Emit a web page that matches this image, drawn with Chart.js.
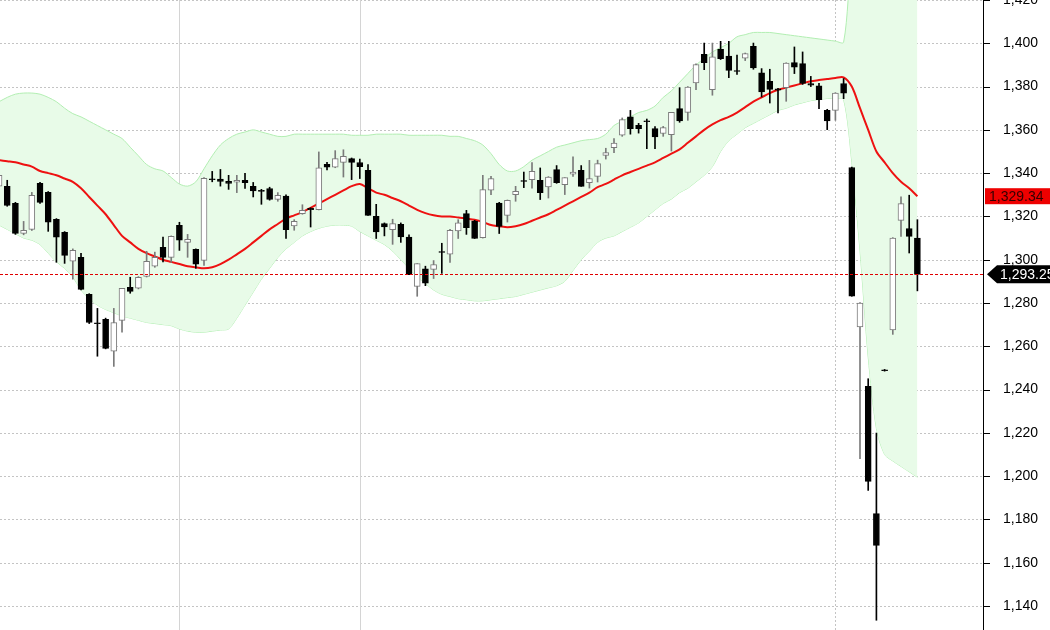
<!DOCTYPE html>
<html><head><meta charset="utf-8">
<script src="https://cdn.jsdelivr.net/npm/chart.js@4.4.1/dist/chart.umd.min.js"></script>
<style>html,body{margin:0;padding:0;background:#fff}#wrap{width:1050px;height:630px}</style>
</head><body><div id="wrap"><canvas id="c"></canvas></div>
<script>
const opens=[1334,1333.9,1326,1312.2,1314,1335.3,1331.1,1318.7,1312.7,1299.3,1301.1,1284,1270.8,1272.5,1257.7,1272,1287.2,1286.8,1292.3,1297,1305.7,1301.1,1315.9,1308,1304.8,1299.7,1337.4,1337.2,1336.2,1335.8,1336.7,1333.9,1332.1,1332.9,1327.9,1329.4,1315.6,1321.3,1323.7,1323.1,1344.1,1342.8,1345,1346.7,1344.9,1341.3,1320,1316.7,1313.9,1316.4,1310.5,1287.7,1295.8,1295.5,1303.8,1302.5,1313.3,1321.3,1317.9,1310.2,1332.1,1326.2,1320.5,1330.1,1336.6,1337,1336.7,1333.6,1341.6,1334.7,1339.5,1341.3,1335.6,1338.5,1348.2,1351.8,1357.5,1366,1362.1,1364.2,1360.6,1358.3,1357.8,1369.8,1368.1,1381.7,1394.9,1378.6,1397.2,1394.1,1387.4,1393.1,1398.6,1386.3,1382.4,1379,1379.5,1391.1,1390.6,1381.4,1380.3,1369,1369,1381.4,1342.6,1268.9,1241.5,1182.7,1249.1,1267.6,1318.2,1314.4,1310];
const highs=[1341,1336.7,1326.5,1317.7,1331.1,1335.8,1331.5,1319,1313,1305,1303,1284.3,1277.5,1273,1277.5,1286.8,1291.9,1292.2,1303.9,1303.5,1310.4,1311,1317.3,1311.7,1305,1338,1340.8,1341.7,1339,1339,1339.9,1335.7,1332.5,1333.5,1331,1330,1318.5,1325.4,1324,1349.8,1345,1350.4,1350.8,1347,1346.5,1343.9,1325.6,1317,1318.7,1317,1311.5,1298.2,1297,1299.6,1307.6,1314,1318.5,1322.8,1318.2,1339,1338.5,1326.5,1327.6,1333.9,1340.5,1344.9,1342.4,1338.4,1343.5,1337.9,1347.5,1343.5,1345.9,1346,1351.5,1356,1365.5,1369,1363,1365,1361.5,1361.6,1368.1,1379.5,1380,1390.5,1400.1,1400.1,1400.9,1400.9,1394.5,1395.5,1400.1,1388.3,1388,1379.2,1391,1398.3,1396,1384.7,1381.5,1369.5,1377.2,1383.7,1342.8,1280.2,1245,1219.9,1249.3,1310.2,1329,1329.8,1318.5];
const lows=[1330,1324.7,1311.7,1311.5,1313.5,1326,1313.1,1298.8,1298.3,1291,1286,1270.5,1255.4,1258.8,1250.7,1266.5,1284.5,1286.5,1292,1296.5,1299,1298.8,1304.3,1301.1,1296,1297.4,1336,1334,1332.5,1331,1332.9,1329,1325.6,1327.5,1327,1309.8,1313.6,1321,1315.1,1323,1341.5,1342.5,1338.2,1337,1337.5,1320.5,1309.8,1311,1307.1,1308,1293.1,1283.1,1288,1291.3,1293.7,1298.8,1309.8,1311.7,1309.8,1310,1330,1312.1,1317.4,1327,1333.3,1333,1327.8,1328.5,1335.3,1330.1,1338.5,1333.9,1333.1,1335.9,1346.5,1349.5,1357,1358,1358.5,1351.3,1351.3,1357,1350.2,1363.5,1364.4,1378.6,1387.8,1376,1392.5,1384.1,1385.6,1392,1388,1375.2,1372.4,1367.8,1373.2,1386,1381,1380,1369.8,1360.1,1364.4,1374.4,1283.1,1208.1,1193.4,1133.4,1248.5,1265.5,1310.8,1303.1,1285.6];
const closes=[1339,1325.1,1312.2,1313.6,1329.8,1326.5,1317.3,1310.4,1302,1304.3,1286.3,1271,1270.4,1259,1271,1286.8,1285.4,1291.9,1299.3,1301.1,1301.1,1310.8,1309,1309.4,1297.9,1337.6,1337,1336.2,1335.3,1336.7,1335.6,1331.8,1331.5,1327.8,1329.8,1313.9,1317.7,1322.8,1323.1,1342.4,1342.8,1346.7,1347.8,1345,1343,1320.5,1312.8,1315.1,1316.7,1310.5,1293.1,1298.2,1289.2,1297.7,1303.4,1313.6,1317,1314.8,1309.8,1332.4,1337.5,1315.4,1327.4,1331.6,1336.2,1340.8,1331,1338.2,1335.6,1337.9,1340.5,1333.9,1337.5,1344.4,1349.5,1353.9,1364.7,1360.6,1360.6,1363.8,1356.7,1361,1368.1,1364.1,1379.8,1390.2,1391.1,1393.7,1392.9,1387.5,1387,1395.2,1388.6,1377.5,1378.7,1378.3,1390.9,1389,1381.4,1380.6,1374,1364.1,1377,1377,1283.1,1280,1197.6,1168,1248.7,1310,1325.9,1310.8,1293.25];
const maLine=[1346,1345.5,1345,1344,1343,1341,1340,1339,1337.5,1336,1333,1329,1325,1321,1316,1311,1308,1305,1303,1301.5,1300,1299,1298,1297,1296.5,1296,1296.5,1298,1300,1302.5,1305,1308,1311,1314,1316.5,1319,1320.5,1322,1324,1326,1328,1330,1332,1334,1335,1333,1331,1330,1328.5,1327,1325,1323,1321.5,1320.5,1320,1320,1319.5,1319,1318.5,1317.5,1316,1315.5,1315,1315.5,1316.5,1318,1319.5,1321,1323,1325,1327,1329,1331,1333.5,1335,1337,1339,1340.5,1342,1343.5,1345,1347,1349,1351,1354,1357,1360,1362.5,1364.5,1366,1368,1370.5,1373,1375,1377,1378.5,1379.5,1380.5,1381.5,1382.5,1383,1383.5,1384,1384.3,1380,1370,1360,1350,1345,1340,1336,1333,1329.34];
const upperBand=[1373,1375,1376.5,1377,1377,1376.5,1375,1373,1370,1367.5,1366,1364,1362,1360,1358,1356,1352,1348,1344,1342,1341,1338,1335,1334,1336,1342,1348,1353,1356,1358,1359,1360,1359,1358,1357,1357,1358,1358,1358,1358,1358,1358,1358,1357.5,1357.5,1357.5,1358,1358,1358,1358,1357.5,1357.5,1357.5,1357.5,1357.5,1357,1357,1356,1355,1353,1349,1344,1341,1341,1343,1346,1348,1350,1352,1353,1354,1355,1355.5,1356,1358,1362,1364,1366,1368,1369,1371,1375,1378,1382,1386,1390,1393,1396,1398,1400,1403,1404,1405,1405,1405,1404.5,1404,1403.5,1403,1402.5,1402,1401.5,1401,1400.5,1440,1455,1465,1472,1476,1480,1482,1483,1484];
const lowerBand=[1316,1314,1312,1310,1309,1307,1303,1299,1296,1292,1286,1282,1279,1277,1275.5,1274,1273,1272,1271,1270.5,1270,1269.5,1268,1267,1266.5,1266.5,1267,1267.5,1268,1273,1279,1285,1291,1296,1301,1305,1308,1311,1313,1314.5,1315.5,1316,1316,1315.5,1313,1311,1309,1307,1304,1300,1296,1292,1289,1286,1284,1283,1282,1281.5,1281,1281,1281.5,1282,1282.5,1283,1284,1285,1286,1287,1288,1290,1295,1300,1304,1308,1310,1311,1313,1315,1317,1320,1323,1326,1328,1331,1333,1336,1339,1343,1350,1355,1358,1361,1363,1365,1367,1369,1370,1371.5,1372.5,1373.5,1374,1374.5,1374.6,1374,1345,1304,1255,1222,1210,1207,1204.5,1202,1199.5];
const yTicks=[1140,1160,1180,1200,1220,1240,1260,1280,1300,1320,1340,1360,1380,1400,1420];
const xGrid=[22,44,102];

const idx=opens.map((_,i)=>i);
const up=idx.map(i=>closes[i]>=opens[i]);
const fmt=v=>v.toLocaleString('en-US',{minimumFractionDigits:0,maximumFractionDigits:2});

const gridPlugin={id:'grid',beforeDatasetsDraw(ch){
  const {ctx,chartArea:a,scales:{x,y}}=ch;ctx.save();ctx.lineWidth=1;
  ctx.strokeStyle='#c4c4c4';ctx.setLineDash([2,2]);
  yTicks.forEach(v=>{const py=Math.round(y.getPixelForValue(v))+0.5;ctx.beginPath();ctx.moveTo(a.left,py);ctx.lineTo(a.right,py);ctx.stroke();});
  xGrid.forEach((v,k)=>{const px=Math.round(x.getPixelForValue(v))+0.5;ctx.setLineDash(k<2?[]:[2,2]);ctx.strokeStyle=k<2?'#d4d4d4':'#c4c4c4';ctx.beginPath();ctx.moveTo(px,a.top);ctx.lineTo(px,a.bottom);ctx.stroke();});
  ctx.restore();
},beforeDraw(ch){}};
const labelPlugin={id:'labels',afterDraw(ch){
  const {ctx,chartArea:a,scales:{y}}=ch;ctx.save();
  // axis line and tick marks
  ctx.strokeStyle='#000';ctx.lineWidth=1;ctx.setLineDash([]);
  ctx.beginPath();ctx.moveTo(a.right+0.5,0);ctx.lineTo(a.right+0.5,630);ctx.stroke();
  yTicks.forEach(v=>{const py=Math.round(y.getPixelForValue(v))+0.5;ctx.beginPath();ctx.moveTo(a.right,py);ctx.lineTo(a.right+7,py);ctx.stroke();});
  const last=closes[closes.length-1];const ly=y.getPixelForValue(last);
  ctx.strokeStyle='#e00000';ctx.setLineDash([3,2]);ctx.beginPath();ctx.moveTo(a.left,Math.round(ly)+0.5);ctx.lineTo(a.right,Math.round(ly)+0.5);ctx.stroke();ctx.setLineDash([]);
  ctx.font='14px "Liberation Sans", Arial, sans-serif';ctx.textBaseline='middle';ctx.textAlign='left';
  // black arrow label
  ctx.fillStyle='#000';ctx.beginPath();ctx.moveTo(a.right+4,ly);ctx.lineTo(a.right+14,ly-9);ctx.lineTo(1050,ly-9);ctx.lineTo(1050,ly+9);ctx.lineTo(a.right+14,ly+9);ctx.closePath();ctx.fill();
  ctx.fillStyle='#fff';ctx.fillText(fmt(last),a.right+17,ly+1);
  const mv=maLine[maLine.length-1];const my=y.getPixelForValue(mv);
  ctx.fillStyle='#ee0000';ctx.fillRect(a.right+2,my-8,70,16);
  ctx.fillStyle='#300';ctx.fillText(fmt(mv),a.right+6,my+1);
  ctx.restore();
}};

new Chart(document.getElementById('c'),{
  data:{datasets:[
    {type:'bar',order:1,grouped:false,barThickness:6,borderWidth:1,borderSkipped:false,
     data:idx.map(i=>({x:i,y:[opens[i],closes[i]]})),
     backgroundColor:idx.map(i=>up[i]?'#ffffff':'#000000'),borderColor:idx.map(i=>up[i]?'#7a7a7a':'#000000')},
    {type:'bar',order:2,grouped:false,barThickness:1,borderWidth:0,
     data:idx.map(i=>({x:i,y:[lows[i],highs[i]]})),
     backgroundColor:idx.map(i=>up[i]?'#7a7a7a':'#000000')},
    {type:'line',order:3,data:idx.map(i=>({x:i,y:maLine[i]})),borderColor:'#ee1111',borderWidth:2,pointRadius:0,tension:0.3},
    {type:'line',order:5,data:idx.map(i=>({x:i,y:upperBand[i]})),borderColor:'#b2eeb2',borderWidth:1,pointRadius:0,fill:'+1',backgroundColor:'#e8fbe8',tension:0.3},
    {type:'line',order:5,data:idx.map(i=>({x:i,y:lowerBand[i]})),borderColor:'#b2eeb2',borderWidth:1,pointRadius:0,fill:false,tension:0.3}
  ]},
  options:{responsive:true,maintainAspectRatio:false,animation:false,
    layout:{padding:0},
    plugins:{legend:{display:false},tooltip:{enabled:false}},
    scales:{
      x:{type:'linear',display:false,min:0.12,max:120,offset:false},
      y:{position:'right',min:1128.9,max:1420,
        afterBuildTicks(s){s.ticks=yTicks.map(v=>({value:v}));},
        afterFit(s){s.width=67;s.paddingTop=0;s.paddingBottom=0;},
        grid:{display:false},border:{display:false},
        ticks:{color:'#000',padding:12,font:{size:14,family:'"Liberation Sans", Arial, sans-serif'},callback:v=>fmt(v)}}
    }},
  plugins:[gridPlugin,labelPlugin]
});
</script></body></html>
